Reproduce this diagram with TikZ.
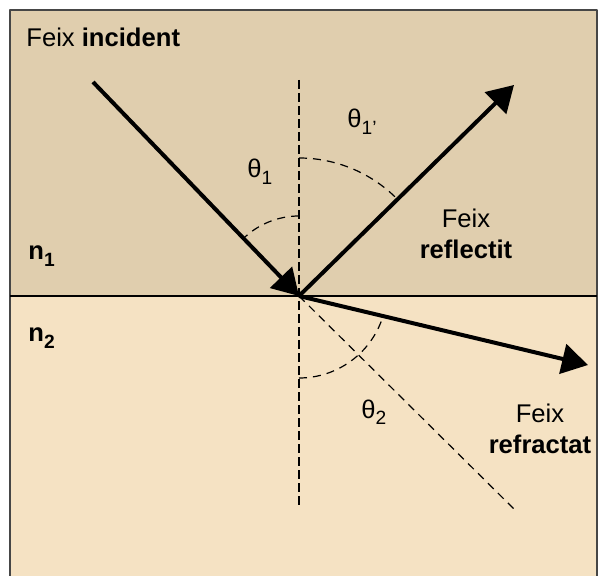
\documentclass[tikz,border=0pt]{standalone}
\usepackage{fontspec}
\setmainfont{Liberation Sans}
\usetikzlibrary{arrows.meta}

\definecolor{medi1}{RGB}{224,206,174}
\definecolor{medi2}{RGB}{245,226,195}
\definecolor{vora}{RGB}{70,70,70}

\newcommand{\subind}[1]{\raisebox{-0.45ex}{\fontsize{9.6}{10}\selectfont #1}}

\tikzset{
  raig/.style={line width=2pt,->},
  normal/.style={line width=1.4pt,dash pattern=on 4.5pt off 2pt},
  guia/.style={line width=0.6pt,dash pattern=on 4pt off 3pt},
  etiq/.style={inner sep=0pt}
}

\begin{document}
\begin{tikzpicture}[x=0.5pt,y=0.5pt,>={Triangle[length=13pt,width=15pt]},
    font=\fontsize{12.8}{15.5}\selectfont, line join=round]
  \useasboundingbox (0,0) rectangle (598,-576);

  % --- Els dos medis ---
  \fill[medi1] (10,-10) rectangle (597,-296);
  \fill[medi2] (10,-296) rectangle (597,-576);
  \draw[vora,line width=0.6pt] (10,-576) -- (10,-10) -- (597,-10) -- (597,-576);
  \draw[line width=0.7pt] (10,-296) -- (597,-296);

  % --- Punts dels raigs ---
  \coordinate (O) at (299,-296);
  \coordinate (inc) at (93,-82);
  \coordinate (refl) at (514,-85);
  \coordinate (refr) at (588,-365);
  \coordinate (nsup) at (299,-80);
  \coordinate (ninf) at (299,-508);
  \coordinate (prol) at (515,-510);

  % --- Normal i prolongacio ---
  \draw[normal] (nsup) -- (ninf);
  \draw[guia] (O) -- (prol);

  % --- Angles ---
  \draw[guia] (O) ++(90:80) arc[start angle=90,end angle=134,radius=80];
  \draw[guia] (O) ++(90:138) arc[start angle=90,end angle=45,radius=138];
  \draw[guia] (O) ++(270:82) arc[start angle=270,end angle=342,radius=88];

  % --- Raigs ---
  \draw[raig] (inc) -- (O);
  \draw[raig] (O) -- (refl);
  \draw[raig] (O) -- (refr);

  % --- Etiquetes ---
  \node[etiq,anchor=base west] (tinc) at (26,-47) {Feix \textbf{incident}};
  \node[etiq,anchor=base west] (t1) at (247,-178) {θ\subind{1}};
  \node[etiq,anchor=base west] (t1p) at (347,-128) {θ\subind{1’}};
  \node[etiq,align=center,anchor=north] (trefl) at (466,-209) {Feix\\\textbf{reflectit}};
  \node[etiq,anchor=base west] (n1) at (28,-260) {\textbf{n\subind{1}}};
  \node[etiq,anchor=base west] (n2) at (28,-342) {\textbf{n\subind{2}}};
  \node[etiq,anchor=base west] (t2) at (361,-418) {θ\subind{2}};
  \node[etiq,align=center,anchor=north] (trefr) at (540,-404) {Feix\\\textbf{refractat}};
\end{tikzpicture}
\end{document}
